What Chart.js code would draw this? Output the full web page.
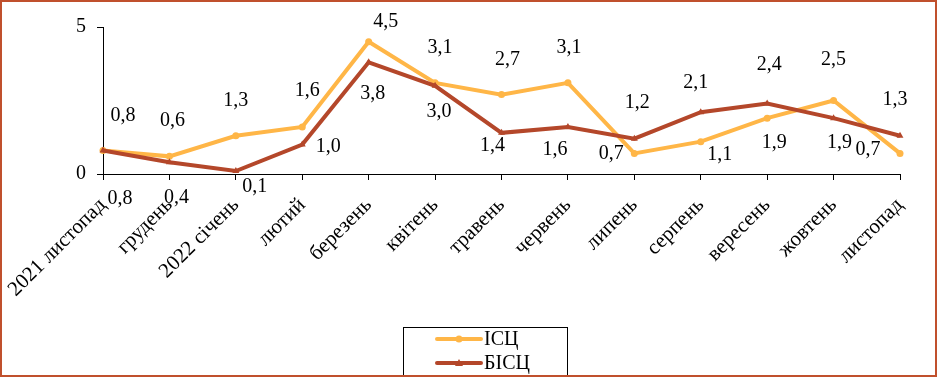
<!DOCTYPE html>
<html>
<head>
<meta charset="utf-8">
<script src="https://cdn.jsdelivr.net/npm/chart.js@4/dist/chart.umd.min.js"></script>
<style>
  html, body { margin: 0; padding: 0; background: #fff; }
  #wrap { width: 941px; height: 377px; position: relative; }
</style>
</head>
<body>
<div id="wrap"><canvas id="cpiChart" width="941" height="377"></canvas></div>
<script>
// дані
const months = ['2021 листопад', 'грудень', '2022 січень', 'лютий', 'березень', 'квітень',
    'травень', 'червень', 'липень', 'серпень', 'вересень', 'жовтень', 'листопад'];
const isc = [0.8, 0.6, 1.3, 1.6, 4.5, 3.1, 2.7, 3.1, 0.7, 1.1, 1.9, 2.5, 0.7];
const bisc = [0.8, 0.4, 0.1, 1.0, 3.8, 3.0, 1.4, 1.6, 1.2, 2.1, 2.4, 1.9, 1.3];
const yTicks = [0, 5];

const FONT = "'Liberation Serif', 'Times New Roman', serif";
const COLOR_ISC = '#FFB647';
const COLOR_BISC = '#B4472A';

// зсуви підписів даних (px) відносно точок
const iscLabelOffsets = [[20, -35], [3, -36], [0, -35], [5, -36], [17, -20], [5, -35], [6, -35],
    [1, -35], [-23, 0], [19, 13], [7, 25], [0, -41], [-32, -4]];
const biscLabelOffsets = [[17, 48], [7, 36], [19, 16], [26, 2], [4, 31], [4, 26], [-9, 13],
    [-13, 23], [3, -36], [-5, -30], [2, -39], [6, 25], [-5, -36]];

const dataLabels = {
    id: 'dataLabels',
    afterDatasetsDraw(chart) {
        const ctx = chart.ctx;
        ctx.save();
        ctx.font = '20px ' + FONT;
        ctx.fillStyle = '#000';
        ctx.textAlign = 'center';
        ctx.textBaseline = 'middle';
        chart.data.datasets.forEach((ds, di) => {
            const meta = chart.getDatasetMeta(di);
            meta.data.forEach((pt, i) => {
                const off = ds.labelOffsets[i];
                const txt = ds.data[i].toFixed(1).replace('.', ',');
                ctx.fillText(txt, pt.x + off[0], pt.y + off[1]);
            });
        });
        ctx.restore();
    }
};

// рамка і легенда
const frameAndLegend = {
    id: 'frameAndLegend',
    afterDraw(chart) {
        const ctx = chart.ctx;
        ctx.save();
        // легенда
        ctx.strokeStyle = '#000';
        ctx.lineWidth = 1;
        ctx.strokeRect(403.5, 327.5, 164, 60);
        ctx.font = '20px ' + FONT;
        ctx.textBaseline = 'middle';
        ctx.textAlign = 'left';
        const items = [[0, 339], [1, 363]];
        items.forEach(([di, y]) => {
            const ds = chart.data.datasets[di];
            ctx.strokeStyle = ds.borderColor;
            ctx.lineWidth = 4;
            ctx.lineCap = 'round';
            ctx.beginPath();
            ctx.moveTo(437, y);
            ctx.lineTo(481, y);
            ctx.stroke();
            ctx.fillStyle = ds.borderColor;
            ctx.beginPath();
            if (di === 0) {
                ctx.arc(459, y, 3.5, 0, Math.PI * 2);
            } else {
                ctx.moveTo(459, y - 4);
                ctx.lineTo(463, y + 3);
                ctx.lineTo(455, y + 3);
                ctx.closePath();
            }
            ctx.fill();
            ctx.fillStyle = '#000';
            ctx.fillText(ds.label, 484, y + 1);
        });
        // рамка
        ctx.strokeStyle = '#C0502D';
        ctx.lineWidth = 2;
        ctx.strokeRect(1, 1, 935, 375);
        ctx.restore();
    }
};

new Chart(document.getElementById('cpiChart'), {
    type: 'line',
    data: {
        labels: months,
        datasets: [{
            label: 'ІСЦ',
            data: isc,
            labelOffsets: iscLabelOffsets,
            borderColor: COLOR_ISC,
            backgroundColor: COLOR_ISC,
            borderWidth: 4,
            pointStyle: 'circle',
            pointRadius: 3.5,
            pointBorderWidth: 0,
            tension: 0,
            order: 2
        }, {
            label: 'БІСЦ',
            data: bisc,
            labelOffsets: biscLabelOffsets,
            borderColor: COLOR_BISC,
            backgroundColor: COLOR_BISC,
            borderWidth: 4,
            pointStyle: 'triangle',
            pointRadius: 4,
            pointBorderWidth: 0,
            tension: 0,
            order: 1
        }]
    },
    options: {
        responsive: false,
        animation: false,
        layout: {
            padding: { top: 27, right: 41, left: 0, bottom: 0 }
        },
        plugins: {
            legend: { display: false },
            tooltip: { enabled: false }
        },
        scales: {
            x: {
                offset: false,
                grid: { display: true, drawOnChartArea: false, drawTicks: true, tickLength: 6, color: '#000' },
                border: { display: true, color: '#000', width: 1 },
                ticks: {
                    color: '#000',
                    font: { family: FONT, size: 21 },
                    minRotation: 45,
                    maxRotation: 45,
                    autoSkip: false,
                    padding: 13
                },
                afterFit(scale) {
                    scale.height = 203;
                    scale.paddingLeft = 0;
                    scale.paddingRight = 0;
                }
            },
            y: {
                min: 0,
                max: 5,
                afterBuildTicks(scale) {
                    scale.ticks = yTicks.map(v => ({ value: v }));
                },
                grid: { display: true, drawOnChartArea: false, drawTicks: true, tickLength: 6, color: '#000' },
                border: { display: true, color: '#000', width: 1 },
                ticks: {
                    color: '#000',
                    font: { family: FONT, size: 20 },
                    padding: 11
                },
                afterFit(scale) {
                    scale.width = 103;
                    scale.paddingTop = 0;
                    scale.paddingBottom = 0;
                }
            }
        }
    },
    plugins: [dataLabels, frameAndLegend]
});
</script>
</body>
</html>
